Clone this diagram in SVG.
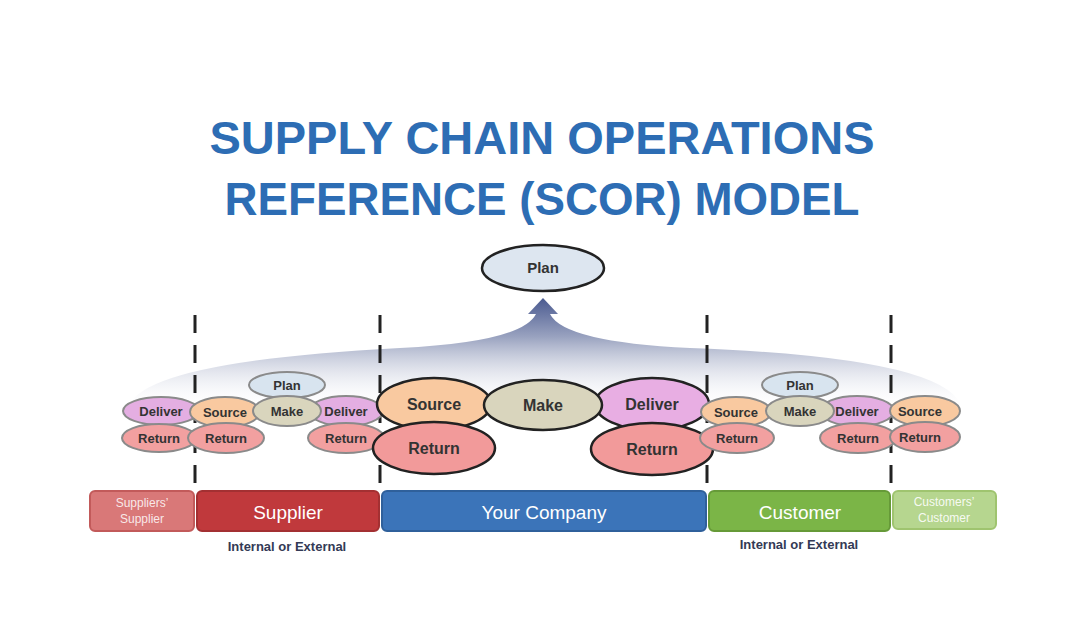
<svg xmlns="http://www.w3.org/2000/svg" width="1080" height="617" viewBox="0 0 1080 617">
<defs>
<linearGradient id="fan" x1="0" y1="0" x2="0" y2="1">
<stop offset="0" stop-color="#4a5a90"/>
<stop offset="0.35" stop-color="#9aa3c0"/>
<stop offset="1" stop-color="#ffffff" stop-opacity="0"/>
</linearGradient>
<style>
.t{font-family:"Liberation Sans",Arial,sans-serif;font-weight:bold;fill:#333;text-anchor:middle}
.s{stroke:#8a8a8a;stroke-width:2}
.b{stroke:#222;stroke-width:2.5}
.bar{font-family:"Liberation Sans",Arial,sans-serif;fill:#fff;text-anchor:middle}
.dash{stroke:#222;stroke-width:3;stroke-dasharray:18 12}
</style>
</defs>
<rect width="1080" height="617" fill="#fff"/>
<g id="title" font-family="'Liberation Sans',Arial,sans-serif" font-weight="bold" font-size="46" fill="#2d6db4" text-anchor="middle">
<text x="542" y="154" textLength="665" lengthAdjust="spacingAndGlyphs">SUPPLY CHAIN OPERATIONS</text>
<text x="542" y="215" textLength="635" lengthAdjust="spacingAndGlyphs">REFERENCE (SCOR) MODEL</text>
</g>
<g id="connectors">
<path d="M128,410 Q135,362 400,348 Q522,342 536,314 L528,314 L543,298 L558,314 L550,314 Q564,342 690,348 Q955,358 962,410 Z" fill="url(#fan)"/>
<line class="dash" x1="195" y1="315" x2="195" y2="492"/>
<line class="dash" x1="380" y1="315" x2="380" y2="492"/>
<line class="dash" x1="707" y1="315" x2="707" y2="492"/>
<line class="dash" x1="891" y1="315" x2="891" y2="492"/>
</g>
<g id="plan-main"><ellipse cx="543" cy="268" rx="61" ry="23" fill="#dde6f0" class="b"/><text class="t" x="543" y="273" font-size="15">Plan</text></g>
<g id="ss-deliver"><ellipse cx="161" cy="411" rx="38" ry="14" fill="#e4aee2" class="s"/><text class="t" x="161" y="416" font-size="13">Deliver</text></g>
<g id="ss-return"><ellipse cx="159" cy="438" rx="37" ry="14" fill="#f2a0a0" class="s"/><text class="t" x="159" y="443" font-size="13">Return</text></g>
<g id="sup-plan"><ellipse cx="287" cy="385" rx="38" ry="13" fill="#d8e4ef" class="s"/><text class="t" x="287" y="390" font-size="13">Plan</text></g>
<g id="sup-source"><ellipse cx="225" cy="412" rx="35" ry="15" fill="#f9c9a0" class="s"/><text class="t" x="225" y="417" font-size="13">Source</text></g>
<g id="sup-deliver"><ellipse cx="346" cy="411" rx="37" ry="15" fill="#e4aee2" class="s"/><text class="t" x="346" y="416" font-size="13">Deliver</text></g>
<g id="sup-make"><ellipse cx="287" cy="411" rx="34" ry="15" fill="#d9d5bd" class="s"/><text class="t" x="287" y="416" font-size="13">Make</text></g>
<g id="sup-return1"><ellipse cx="226" cy="438" rx="38" ry="15" fill="#f2a0a0" class="s"/><text class="t" x="226" y="443" font-size="13">Return</text></g>
<g id="sup-return2"><ellipse cx="346" cy="438" rx="38" ry="15" fill="#f2a0a0" class="s"/><text class="t" x="346" y="443" font-size="13">Return</text></g>
<g id="co-source"><ellipse cx="434" cy="404" rx="57" ry="26" fill="#f9c9a0" class="b"/><text class="t" x="434" y="410" font-size="16">Source</text></g>
<g id="co-deliver"><ellipse cx="652" cy="404" rx="57" ry="26" fill="#e8aee3" class="b"/><text class="t" x="652" y="410" font-size="16">Deliver</text></g>
<g id="co-make"><ellipse cx="543" cy="405" rx="59" ry="25" fill="#d9d5bd" class="b"/><text class="t" x="543" y="411" font-size="16">Make</text></g>
<g id="co-return1"><ellipse cx="434" cy="448" rx="61" ry="26" fill="#f29a9a" class="b"/><text class="t" x="434" y="454" font-size="16">Return</text></g>
<g id="co-return2"><ellipse cx="652" cy="449" rx="61" ry="26" fill="#f29a9a" class="b"/><text class="t" x="652" y="455" font-size="16">Return</text></g>
<g id="cu-plan"><ellipse cx="800" cy="385" rx="38" ry="13" fill="#d8e4ef" class="s"/><text class="t" x="800" y="390" font-size="13">Plan</text></g>
<g id="cu-source"><ellipse cx="736" cy="412" rx="35" ry="15" fill="#f9c9a0" class="s"/><text class="t" x="736" y="417" font-size="13">Source</text></g>
<g id="cu-deliver"><ellipse cx="857" cy="411" rx="37" ry="15" fill="#e4aee2" class="s"/><text class="t" x="857" y="416" font-size="13">Deliver</text></g>
<g id="cu-make"><ellipse cx="800" cy="411" rx="34" ry="15" fill="#d9d5bd" class="s"/><text class="t" x="800" y="416" font-size="13">Make</text></g>
<g id="cu-return1"><ellipse cx="737" cy="438" rx="37" ry="15" fill="#f2a0a0" class="s"/><text class="t" x="737" y="443" font-size="13">Return</text></g>
<g id="cu-return2"><ellipse cx="858" cy="438" rx="38" ry="15" fill="#f2a0a0" class="s"/><text class="t" x="858" y="443" font-size="13">Return</text></g>
<g id="cc-source"><ellipse cx="925" cy="411" rx="35" ry="15" fill="#f9c9a0" class="s"/><text class="t" x="920" y="416" font-size="13">Source</text></g>
<g id="cc-return"><ellipse cx="925" cy="437" rx="35" ry="15" fill="#f2a0a0" class="s"/><text class="t" x="920" y="442" font-size="13">Return</text></g>
<g id="bar-ss"><rect x="90" y="491" width="104" height="40" rx="5" fill="#d97878" stroke="#c25a5a" stroke-width="2"/><text class="bar" x="142" y="507" font-size="12" fill-opacity="0.85">Suppliers’</text><text class="bar" x="142" y="523" font-size="12" fill-opacity="0.85">Supplier</text></g>
<g id="bar-sup"><rect x="197" y="491" width="182" height="40" rx="5" fill="#c0393c" stroke="#a33032" stroke-width="2"/><text class="bar" x="288" y="519" font-size="19">Supplier</text></g>
<g id="bar-co"><rect x="382" y="491" width="324" height="40" rx="5" fill="#3b74b9" stroke="#2f609b" stroke-width="2"/><text class="bar" x="544" y="519" font-size="19">Your Company</text></g>
<g id="bar-cu"><rect x="709" y="491" width="181" height="40" rx="5" fill="#7bb547" stroke="#669a38" stroke-width="2"/><text class="bar" x="800" y="519" font-size="19">Customer</text></g>
<g id="bar-cc"><rect x="893" y="491" width="103" height="38" rx="5" fill="#b6d68f" stroke="#9fc46f" stroke-width="2"/><text class="bar" x="944" y="506" font-size="12" fill-opacity="0.9">Customers’</text><text class="bar" x="944" y="522" font-size="12" fill-opacity="0.9">Customer</text></g>
<g id="labels" font-family="'Liberation Sans',Arial,sans-serif" font-weight="bold" font-size="13" fill="#333a55" text-anchor="middle">
<text x="287" y="551">Internal or External</text>
<text x="799" y="549">Internal or External</text>
</g>
</svg>
